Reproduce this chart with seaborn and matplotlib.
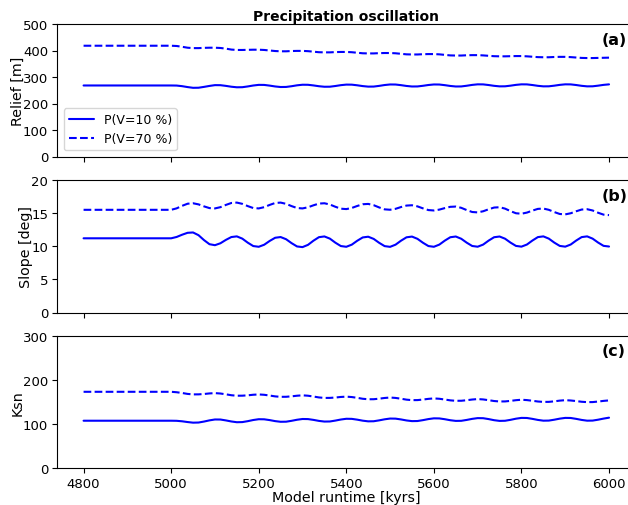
import numpy as np
import pandas as pd
import matplotlib
matplotlib.use("Agg")
import matplotlib.pyplot as plt
import seaborn as sns

# ---- data ----
times = [4800,
         5000, 5012.5, 5025, 5037.5, 5050, 5062.5, 5075, 5087.5,
         5100, 5112.5, 5125, 5137.5, 5150, 5162.5, 5175, 5187.5,
         5200, 5212.5, 5225, 5237.5, 5250, 5262.5, 5275, 5287.5,
         5300, 5312.5, 5325, 5337.5, 5350, 5362.5, 5375, 5387.5,
         5400, 5412.5, 5425, 5437.5, 5450, 5462.5, 5475, 5487.5,
         5500, 5512.5, 5525, 5537.5, 5550, 5562.5, 5575, 5587.5,
         5600, 5612.5, 5625, 5637.5, 5650, 5662.5, 5675, 5687.5,
         5700, 5712.5, 5725, 5737.5, 5750, 5762.5, 5775, 5787.5,
         5800, 5812.5, 5825, 5837.5, 5850, 5862.5, 5875, 5887.5,
         5900, 5912.5, 5925, 5937.5, 5950, 5962.5, 5975, 5987.5,
         6000]

relief_10 = [268,
             268, 267.7, 265.4, 262.0, 259.2, 259.5, 262.7, 266.3,
             269.3, 269.1, 266.5, 263.3, 261.2, 261.5, 264.4, 267.9,
             270.3, 270.1, 267.5, 264.3, 262.2, 262.5, 265.2, 268.6,
             270.8, 270.6, 268.2, 265.2, 263.2, 263.4, 266.0, 269.2,
             271.3, 271.1, 268.7, 265.7, 263.7, 263.9, 266.5, 269.7,
             271.8, 271.6, 269.2, 266.2, 264.2, 264.4, 266.8, 269.8,
             271.8, 271.6, 269.2, 266.2, 264.2, 264.4, 267.0, 270.2,
             272.3, 272.1, 269.7, 266.7, 264.7, 264.9, 267.3, 270.3,
             272.3, 272.1, 269.7, 266.7, 264.7, 264.9, 267.3, 270.3,
             272.3, 272.1, 269.7, 266.7, 264.7, 264.9, 267.3, 270.3,
             272.2]

relief_70 = [418,
             418, 417, 414, 410.5, 409, 409, 410, 410.5,
             410.5, 409.5, 407, 403.5, 402, 402, 402.5, 403,
             403, 402, 400, 398, 397, 397, 398, 398.5,
             398.5, 397.5, 395.5, 393.5, 393, 393, 394, 394.5,
             394.5, 393.5, 391.5, 389.5, 389, 389, 390, 390.5,
             390.5, 389.5, 387.5, 385.5, 385, 385, 386, 386.5,
             386.5, 385.5, 383.5, 381.5, 381, 381, 382, 382.5,
             382.5, 381.5, 380, 378.5, 378, 378, 378.5, 379,
             379, 378, 376.5, 375, 374.5, 374.5, 375.5, 376,
             376, 375, 373.5, 372, 371.5, 371.5, 372, 372.5,
             373]

slope_10 = [11.2,
            11.2, 11.40, 11.74, 12.03, 12.08, 11.67, 10.93, 10.31,
            10.16, 10.45, 10.96, 11.39, 11.49, 11.15, 10.54, 10.03,
            9.92, 10.23, 10.80, 11.28, 11.39, 11.06, 10.47, 9.97,
            9.87, 10.21, 10.84, 11.37, 11.48, 11.15, 10.54, 10.03,
            9.92, 10.24, 10.83, 11.33, 11.44, 11.11, 10.52, 10.02,
            9.91, 10.24, 10.84, 11.35, 11.46, 11.12, 10.53, 10.03,
            9.92, 10.25, 10.85, 11.36, 11.47, 11.13, 10.54, 10.04,
            9.93, 10.25, 10.85, 11.36, 11.47, 11.14, 10.55, 10.05,
            9.94, 10.26, 10.86, 11.38, 11.49, 11.15, 10.55, 10.05,
            9.94, 10.26, 10.86, 11.38, 11.49, 11.15, 10.56, 10.06,
            9.96]

slope_70 = [15.5,
            15.5, 15.72, 16.10, 16.42, 16.49, 16.32, 16.02, 15.76,
            15.71, 15.90, 16.24, 16.53, 16.59, 16.40, 16.06, 15.77,
            15.71, 15.90, 16.24, 16.53, 16.59, 16.40, 16.06, 15.77,
            15.71, 15.88, 16.18, 16.44, 16.49, 16.30, 15.96, 15.67,
            15.61, 15.78, 16.08, 16.34, 16.39, 16.20, 15.86, 15.57,
            15.51, 15.65, 15.92, 16.14, 16.19, 16.02, 15.72, 15.46,
            15.40, 15.53, 15.76, 15.95, 15.99, 15.80, 15.46, 15.17,
            15.11, 15.28, 15.58, 15.84, 15.89, 15.68, 15.30, 14.98,
            14.91, 15.08, 15.38, 15.64, 15.69, 15.50, 15.16, 14.87,
            14.81, 14.98, 15.28, 15.54, 15.59, 15.40, 15.06, 14.77,
            14.70]

ksn_10 = [107.5,
          107.5, 107.3, 106.2, 104.5, 103.1, 103.4, 105.6, 108.3,
          110.3, 110.2, 108.2, 105.8, 104.1, 104.4, 106.5, 109.1,
          110.9, 110.7, 108.9, 106.6, 105.1, 105.3, 107.3, 109.7,
          111.4, 111.2, 109.4, 107.1, 105.6, 105.8, 107.8, 110.2,
          111.9, 111.7, 109.9, 107.6, 106.1, 106.3, 108.3, 110.7,
          112.4, 112.2, 110.4, 108.1, 106.6, 106.8, 108.8, 111.2,
          112.9, 112.7, 110.9, 108.6, 107.1, 107.3, 109.3, 111.7,
          113.4, 113.2, 111.2, 108.7, 107.1, 107.4, 109.5, 112.1,
          113.9, 113.7, 111.7, 109.3, 107.6, 107.8, 109.8, 112.2,
          113.9, 113.7, 111.7, 109.3, 107.6, 107.8, 109.8, 112.3,
          114.4]

ksn_70 = [173,
          173, 172, 170.3, 168.2, 167.1, 167.2, 168.0, 169.3,
          170, 169.1, 167.3, 165.2, 164.1, 164.2, 165.0, 166.3,
          167, 166.2, 164.5, 162.6, 161.6, 161.7, 162.7, 164.1,
          165, 164.1, 162.3, 160.2, 159.1, 159.2, 160.0, 161.3,
          162, 161.1, 159.3, 157.2, 156.1, 156.2, 157.4, 159.0,
          160, 159.1, 157.3, 155.2, 154.1, 154.2, 155.4, 157.0,
          158, 157.2, 155.5, 153.6, 152.6, 152.7, 153.9, 155.5,
          156.5, 155.7, 154.0, 152.1, 151.1, 151.2, 152.4, 154.0,
          155, 154.2, 152.7, 151.0, 150.1, 150.2, 151.4, 153.0,
          154, 153.3, 152.0, 150.4, 149.6, 149.7, 150.9, 152.4,
          153.5]

series_labels = ["P(V=10 %)", "P(V=70 %)"]
panel_tags = ["(a)", "(b)", "(c)"]
ylabels = ["Relief [m]", "Slope [deg]", "Ksn"]
ylims = [(0, 500), (0, 20), (0, 300)]
xticks = [4800, 5000, 5200, 5400, 5600, 5800, 6000]

panels = [(relief_10, relief_70), (slope_10, slope_70), (ksn_10, ksn_70)]

sns.set_style("ticks", rc={"text.color": "black", "axes.labelcolor": "black",
                           "xtick.color": "black", "ytick.color": "black",
                           "axes.edgecolor": "black"})
plt.rcParams['font.family'] = ['DejaVu Sans']

fig = plt.figure(figsize=(6.28, 5.06), dpi=100)
W, H = 628.0, 506.0
left = 57.3 / W
width = 578.0 / W
tops = [25.0, 181.0, 336.7]
ph = 132.5
axes = []
for t in tops:
    ax = fig.add_axes([left, 1 - (t + ph) / H, width, ph / H])
    axes.append(ax)

for i, ax in enumerate(axes):
    s10, s70 = panels[i]
    df = pd.DataFrame({
        "time": times * 2,
        "value": list(s10) + list(s70),
        "series": [series_labels[0]] * len(times) + [series_labels[1]] * len(times),
    })
    sns.lineplot(data=df, x="time", y="value", style="series",
                 dashes={series_labels[0]: "", series_labels[1]: (3.7, 1.6)},
                 color="#0000ff", linewidth=1.5, ax=ax, legend=(i == 0))
    ax.set_ylim(*ylims[i])
    ax.set_xlim(4740, 6060)
    ax.set_xticks(xticks)
    ax.set_ylabel(ylabels[i], fontsize=10.3, labelpad=-1)
    ax.tick_params(labelsize=9.5, length=3.5, width=0.8, color="black",
                   labelcolor="black", pad=3)
    for sp in ax.spines.values():
        sp.set_linewidth(0.8)
        sp.set_color("black")
    ax.text(0.941, 0.885, panel_tags[i], transform=ax.transAxes,
            fontsize=11.5, fontweight="bold", ha="left", va="center", color="black")
    if i < 2:
        ax.set_xlabel("")
        ax.tick_params(labelbottom=False)
    else:
        ax.set_xlabel("Model runtime [kyrs]", fontsize=10.3, labelpad=-0.5)

axes[0].set_title("Precipitation oscillation", fontsize=10, fontweight="bold",
                  pad=3, color="black")
leg = axes[0].legend(loc="lower left", fontsize=9, frameon=True)
leg.set_title(None)

fig.savefig("out.png", dpi=100)
